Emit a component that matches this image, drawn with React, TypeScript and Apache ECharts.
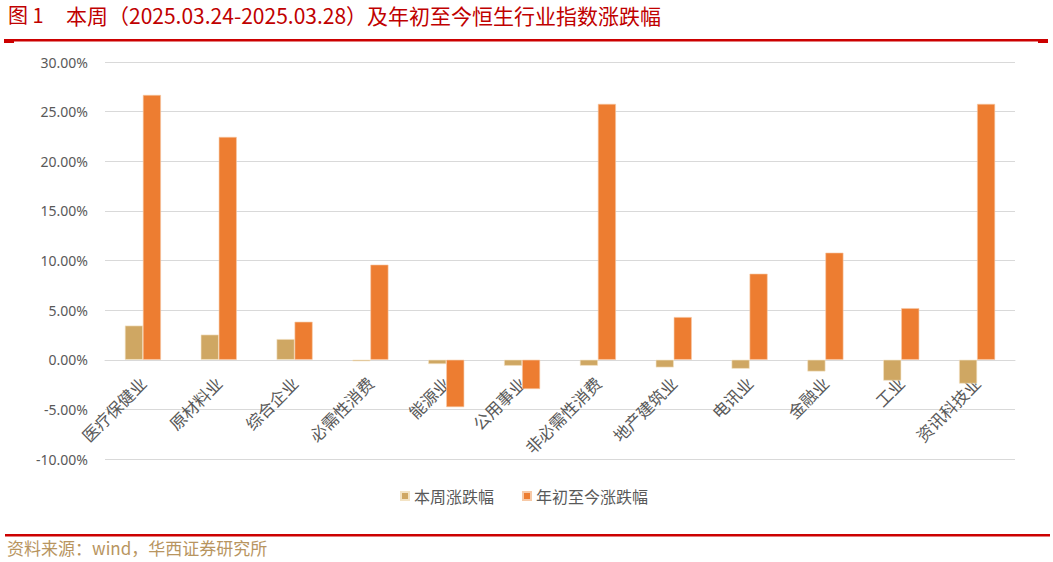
import React, { useEffect, useRef } from "react";
import * as echarts from "echarts";

const categories = [
  "医疗保健业",
  "原材料业",
  "综合企业",
  "必需性消费",
  "能源业",
  "公用事业",
  "非必需性消费",
  "地产建筑业",
  "电讯业",
  "金融业",
  "工业",
  "资讯科技业",
];
const weekly = [3.44, 2.53, 2.08, -0.15, -0.43, -0.6, -0.6, -0.77, -0.9, -1.18, -2.1, -2.4];
const ytd = [26.68, 22.45, 3.83, 9.58, -4.77, -2.95, 25.78, 4.3, 8.67, 10.79, 5.2, 25.78];
const seriesNames = ["本周涨跌幅", "年初至今涨跌幅"];
const titleText = "本周（2025.03.24-2025.03.28）及年初至今恒生行业指数涨跌幅";
const sourceText = "资料来源：wind，华西证券研究所";

const CJK = "'Noto Sans CJK SC', 'Noto Sans', sans-serif";

export default function App() {
  const ref = useRef<HTMLDivElement>(null);
  useEffect(() => {
    if (!ref.current) return;
    const chart = echarts.init(ref.current, null, { renderer: "svg" });
    chart.setOption({
      animation: false,
      backgroundColor: "#ffffff",
      grid: { left: 105, right: 38, top: 62, bottom: 103 },
      legend: {
        data: seriesNames,
        left: 395,
        top: 483,
        itemWidth: 8,
        itemHeight: 8,
        itemGap: 28,
        icon: "rect",
        textStyle: { color: "#595959", fontSize: 16, fontFamily: CJK },
      },
      xAxis: {
        type: "category",
        data: categories,
        axisLine: { show: true, onZero: true, lineStyle: { color: "#d9d9d9" } },
        axisTick: { show: false },
        axisLabel: {
          rotate: 45,
          interval: 0,
          margin: -79,
          color: "#595959",
          fontSize: 16.5,
          fontFamily: CJK,
        },
      },
      yAxis: {
        type: "value",
        min: -10,
        max: 30,
        interval: 5,
        axisLine: { show: false },
        axisTick: { show: false },
        splitLine: { lineStyle: { color: "#d9d9d9", width: 1 } },
        axisLabel: {
          margin: 17,
          color: "#595959",
          fontSize: 14,
          fontFamily: "'Noto Sans', sans-serif",
          formatter: (v: number) => v.toFixed(2) + "%",
        },
      },
      series: [
        {
          name: seriesNames[0],
          type: "bar",
          data: weekly,
          barWidth: 18,
          barGap: "0%",
          itemStyle: { color: "#CFA763", borderColor: "#f3e3c4", borderWidth: 0.6 },
        },
        {
          name: seriesNames[1],
          type: "bar",
          data: ytd,
          barWidth: 18,
          itemStyle: { color: "#ED7D31", borderColor: "#f7c9a6", borderWidth: 0.6 },
        },
      ],
      graphic: [
        {
          type: "text",
          left: 8,
          top: 4,
          style: { text: "图 1", fill: "#c00000", fontSize: 20, fontFamily: CJK },
        },
        {
          type: "text",
          left: 66,
          top: 4,
          style: { text: titleText, fill: "#c00000", fontSize: 21, fontFamily: CJK },
        },
        {
          type: "rect",
          shape: { x: 4, y: 39, width: 1044, height: 2.5 },
          style: { fill: "#cc0000" },
        },
        {
          type: "rect",
          shape: { x: 4, y: 39, width: 10, height: 4 },
          style: { fill: "#cc0000" },
        },
        {
          type: "rect",
          shape: { x: 1038, y: 39, width: 10, height: 4 },
          style: { fill: "#cc0000" },
        },
        {
          type: "rect",
          shape: { x: 5, y: 534, width: 1045, height: 2.5 },
          style: { fill: "#cc0000" },
        },
        {
          type: "text",
          left: 7,
          top: 539,
          style: { text: sourceText, fill: "#b8955f", fontSize: 17, fontFamily: CJK },
        },
      ],
    });
    return () => chart.dispose();
  }, []);
  return (
    <div
      ref={ref}
      style={{ position: "fixed", left: 0, top: 0, width: 1053, height: 562, background: "#fff" }}
    />
  );
}
